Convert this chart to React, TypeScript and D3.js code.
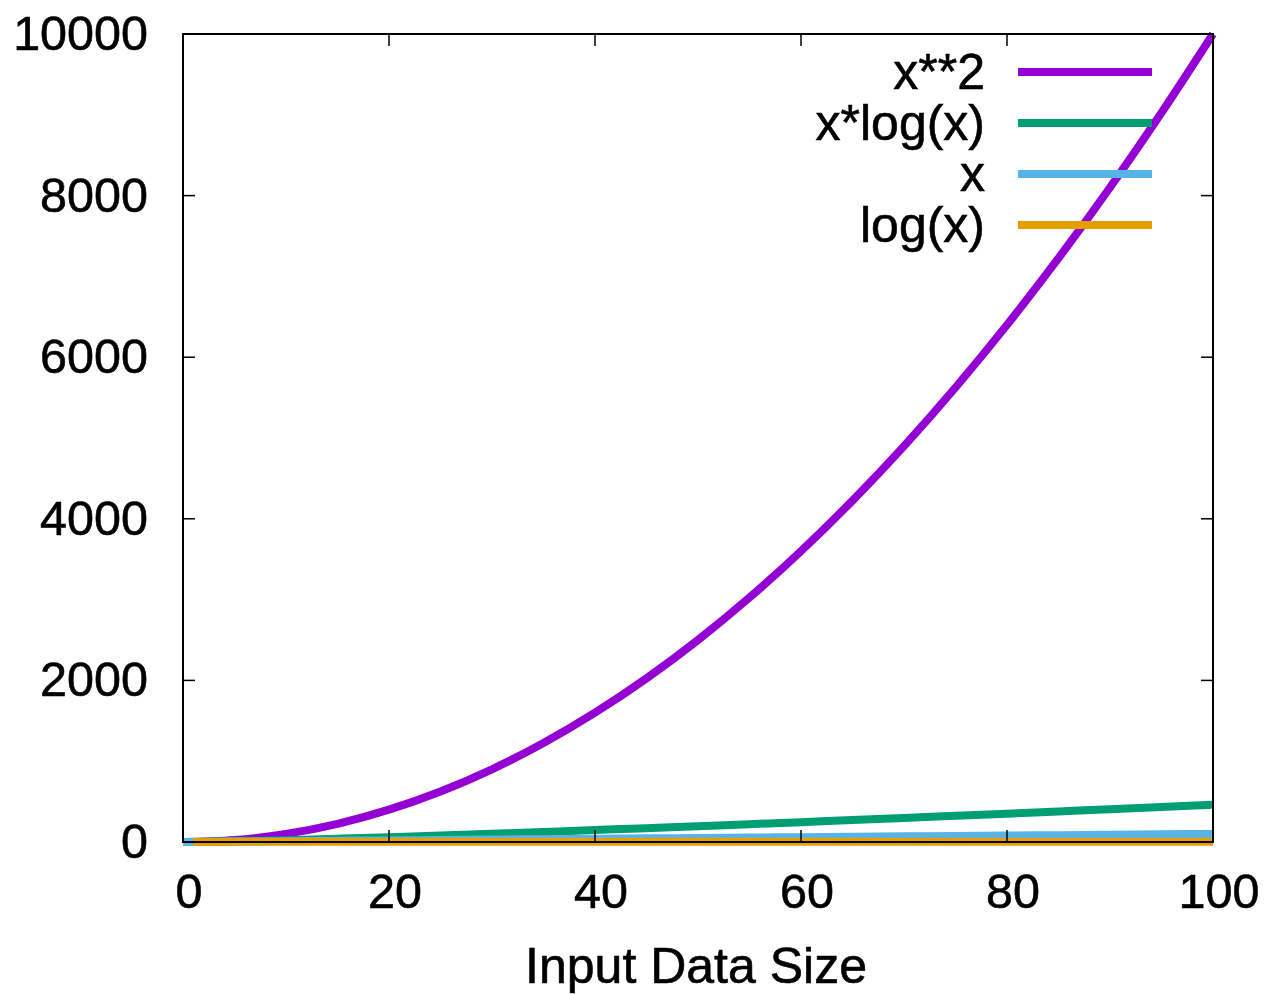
import * as d3 from "d3";
import { useEffect, useRef } from "react";

// sample sizes
const xs = [0, 5, 10, 15, 20, 25, 30, 35, 40, 45, 50, 55, 60, 65, 70, 75, 80, 85, 90, 95, 100];
const xsLog = [1, 5, 10, 15, 20, 25, 30, 35, 40, 45, 50, 55, 60, 65, 70, 75, 80, 85, 90, 95, 100];

const squareVals = [0, 25, 100, 225, 400, 625, 900, 1225, 1600, 2025, 2500, 3025, 3600, 4225, 4900, 5625, 6400, 7225, 8100, 9025, 10000];
const xlogVals = [0, 8.0, 23.0, 40.6, 59.9, 80.5, 102.0, 124.4, 147.6, 171.3, 195.6, 220.4, 245.7, 271.3, 297.4, 323.8, 350.6, 377.6, 405.0, 432.6, 460.5];
const linearVals = [0, 5, 10, 15, 20, 25, 30, 35, 40, 45, 50, 55, 60, 65, 70, 75, 80, 85, 90, 95, 100];
const logVals = [0, 1.61, 2.3, 2.71, 3.0, 3.22, 3.4, 3.56, 3.69, 3.81, 3.91, 4.01, 4.09, 4.17, 4.25, 4.32, 4.38, 4.44, 4.5, 4.55, 4.61];

const seriesNames = ["x**2", "x*log(x)", "x", "log(x)"];
const seriesColors = ["#9400d3", "#009e73", "#56b4e9", "#e69f00"];

const xTicks = [0, 20, 40, 60, 80, 100];
const yTicks = [0, 2000, 4000, 6000, 8000, 10000];

function App() {
  const ref = useRef<SVGSVGElement>(null);

  useEffect(() => {
    const width = 1265,
      height = 994;
    const left = 183,
      right = 1213,
      top = 34,
      bottom = 842;
    const font = "'Liberation Sans', Arial, sans-serif";

    const svg = d3.select(ref.current);
    svg.selectAll("*").remove();
    svg.attr("width", width).attr("height", height);

    const x = d3.scaleLinear().domain([0, 100]).range([left, right]);
    const y = d3.scaleLinear().domain([0, 10000]).range([bottom, top]);

    // the series, built from the arrays above
    const series = [
      xs.map((d, i) => [d, squareVals[i]]),
      xsLog.map((d, i) => [d, xlogVals[i]]),
      xs.map((d, i) => [d, linearVals[i]]),
      xsLog.map((d, i) => [d, logVals[i]]),
    ];

    const line = d3
      .line<number[]>()
      .x((d) => x(d[0]))
      .y((d) => y(d[1]))
      .curve(d3.curveMonotoneX);

    series.forEach((s, i) => {
      svg
        .append("path")
        .attr("d", line(s))
        .attr("fill", "none")
        .attr("stroke", seriesColors[i])
        .attr("stroke-width", 8);
    });

    // ticks, mirrored on all four sides, pointing inward
    const tickLen = 12;
    xTicks.forEach((t) => {
      svg.append("line").attr("x1", x(t)).attr("x2", x(t)).attr("y1", bottom).attr("y2", bottom - tickLen)
        .attr("stroke", "#000").attr("stroke-width", 1.5);
      svg.append("line").attr("x1", x(t)).attr("x2", x(t)).attr("y1", top).attr("y2", top + tickLen)
        .attr("stroke", "#000").attr("stroke-width", 1.5);
      svg.append("text").attr("x", x(t) + 6).attr("y", 908).attr("text-anchor", "middle")
        .attr("font-family", font).attr("font-size", 48.5)
        .attr("stroke", "#000").attr("stroke-width", 0.6).text(t);
    });
    yTicks.forEach((t) => {
      svg.append("line").attr("x1", left).attr("x2", left + tickLen).attr("y1", y(t)).attr("y2", y(t))
        .attr("stroke", "#000").attr("stroke-width", 1.5);
      svg.append("line").attr("x1", right).attr("x2", right - tickLen).attr("y1", y(t)).attr("y2", y(t))
        .attr("stroke", "#000").attr("stroke-width", 1.5);
      svg.append("text").attr("x", 148).attr("y", y(t) + 16).attr("text-anchor", "end")
        .attr("font-family", font).attr("font-size", 48.5)
        .attr("stroke", "#000").attr("stroke-width", 0.6).text(t);
    });

    // frame
    svg.append("rect").attr("x", left).attr("y", top).attr("width", right - left).attr("height", bottom - top)
      .attr("fill", "none").attr("stroke", "#000").attr("stroke-width", 2);

    // legend
    seriesNames.forEach((name, i) => {
      const ly = 72 + i * 51;
      svg.append("line").attr("x1", 1018).attr("x2", 1152).attr("y1", ly).attr("y2", ly)
        .attr("stroke", seriesColors[i]).attr("stroke-width", 8);
      svg.append("text").attr("x", 985).attr("y", ly + 17).attr("text-anchor", "end")
        .attr("font-family", font).attr("font-size", 50)
        .attr("stroke", "#000").attr("stroke-width", 0.6).text(name);
    });

    // axis title
    svg.append("text").attr("x", 696).attr("y", 983).attr("text-anchor", "middle")
      .attr("font-family", font).attr("font-size", 50)
      .attr("stroke", "#000").attr("stroke-width", 0.6).text("Input Data Size");
  }, []);

  return (
    <div style={{ position: "absolute", left: 0, top: 0 }}>
      <svg ref={ref} style={{ display: "block" }}></svg>
    </div>
  );
}

export default App;
